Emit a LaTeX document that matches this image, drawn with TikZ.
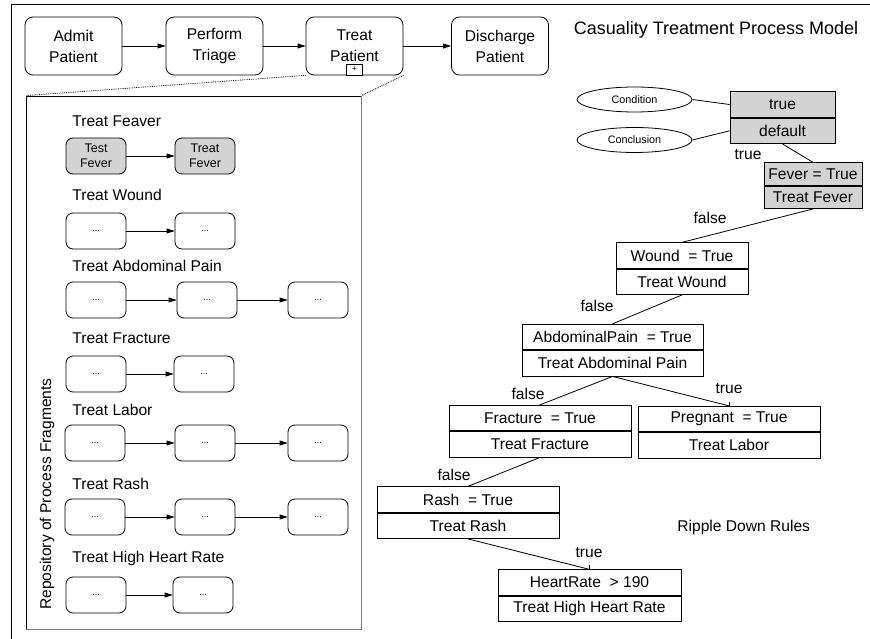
\documentclass[tikz,border=0pt]{standalone}
\usepackage{fontspec}
\setmainfont{Liberation Sans}
\usetikzlibrary{positioning,shapes.geometric,arrows.meta}

\definecolor{shade}{RGB}{211,211,211}
\tikzset{
  task/.style={draw, rounded corners=8pt, minimum width=97pt, minimum height=58pt, inner sep=0pt, align=center, font=\fontsize{15.6}{21}\selectfont},
  frag/.style={draw, rounded corners=7pt, minimum width=60pt, minimum height=36pt, inner sep=0pt, align=center, font=\fontsize{12.5}{15.5}\selectfont},
  dots/.style={frag, font=\fontsize{9}{10}\selectfont},
  fraglbl/.style={anchor=west, inner sep=0pt, font=\fontsize{15.6}{18}\selectfont},
  rule/.style={draw, inner sep=0pt, minimum height=25.5pt, minimum width=182pt, font=\fontsize{15.6}{18}\selectfont},
  lbl/.style={inner sep=0pt, font=\fontsize{15.6}{18}\selectfont},
  flow/.style={-{Triangle[length=8pt,width=5pt]}},
}

\begin{document}
\begin{tikzpicture}[x=1pt, y=-1pt, line width=0.8pt]
\useasboundingbox (0,0) rectangle (870,639);
%\draw[step=50,gray,very thin] (0,0) grid (870,639); %background grid
\draw[line width=1pt] (11,660) -- (11,5) -- (890,5);

% process model
\node[task] (adm) at (73.5,46) {Admit\\Patient};
\node[task] (tri) at (214.5,46) {Perform\\Triage};
\node[task] (trt) at (354.5,46) {Treat\\Patient};
\node[task] (dis) at (500,46) {Discharge\\Patient};
\node[draw, fill=white, line width=0.6pt, minimum width=16pt, minimum height=11pt, inner sep=0pt, anchor=south, font=\fontsize{8}{8}\selectfont] (trtplus) at (trt.south) {+};
\draw[flow] (adm) -- (tri);
\draw[flow] (tri) -- (trt);
\draw[flow] (trt) -- (dis);
\node[lbl, font=\fontsize{18}{20}\selectfont] (title) at (716,30) {Casuality Treatment Process Model};

% repository of fragments
\node[draw, minimum width=335pt, minimum height=533pt, inner sep=0pt] (repo) at (193.5,362.5) {};
\draw[gray, line width=1.3pt] (repo.north east) -- (repo.south east) -- (repo.south west);
\draw[densely dotted] (trt.south west) -- (repo.north west);
\draw[densely dotted] (trt.south east) -- (repo.north east);
\node[lbl, rotate=90] (repolbl) at (47,494) {Repository of Process Fragments};

\node[fraglbl] (lfev) at (72,121) {Treat Feaver};
\node[frag, fill=shade] (fev1) at (96,156) {Test\\Fever};
\node[frag, fill=shade] (fev2) at (205,156) {Treat\\Fever};
\draw[flow] (fev1) -- (fev2);

\node[fraglbl] (lwnd) at (72,195) {Treat Wound};
\node[dots] (wnd1) at (96,231) {...};
\node[dots] (wnd2) at (205,231) {...};
\draw[flow] (wnd1) -- (wnd2);

\node[fraglbl] (labd) at (72,266) {Treat Abdominal Pain};
\node[dots] (abd1) at (96,300) {...};
\node[dots] (abd2) at (207,300) {...};
\node[dots] (abd3) at (318,300) {...};
\draw[flow] (abd1) -- (abd2);
\draw[flow] (abd2) -- (abd3);

\node[fraglbl] (lfrc) at (72,338) {Treat Fracture};
\node[dots] (frc1) at (96,374) {...};
\node[dots] (frc2) at (204,374) {...};
\draw[flow] (frc1) -- (frc2);

\node[fraglbl] (llab) at (72,410) {Treat Labor};
\node[dots] (lab1) at (95,443) {...};
\node[dots] (lab2) at (205,443) {...};
\node[dots] (lab3) at (318,443) {...};
\draw[flow] (lab1) -- (lab2);
\draw[flow] (lab2) -- (lab3);

\node[fraglbl] (lrsh) at (72,484) {Treat Rash};
\node[dots] (rsh1) at (95,517) {...};
\node[dots] (rsh2) at (205,517) {...};
\node[dots] (rsh3) at (318,517) {...};
\draw[flow] (rsh1) -- (rsh2);
\draw[flow] (rsh2) -- (rsh3);

\node[fraglbl] (lhhr) at (72,558) {Treat High Heart Rate};
\node[dots] (hhr1) at (96,595) {...};
\node[dots] (hhr2) at (203,595) {...};
\draw[flow] (hhr1) -- (hhr2);

% ripple down rules
\node[draw, ellipse, minimum width=115pt, minimum height=25pt, inner sep=0pt, font=\fontsize{10.8}{12}\selectfont] (cond) at (634.5,99.5) {Condition};
\node[draw, ellipse, minimum width=115pt, minimum height=25pt, inner sep=0pt, font=\fontsize{10.8}{12}\selectfont] (concl) at (634.5,140) {Conclusion};
\node[rule, fill=shade, minimum width=105pt] (root) at (782.5,104.5) {true};
\node[rule, fill=shade, minimum width=105pt, below=0pt of root] (rootc) {default};
\draw (cond.east) -- (root.west);
\draw (concl.east) -- (rootc.west);

\node[rule, fill=shade, minimum width=98pt, minimum height=22.5pt] (fever) at (813,174) {Fever = True};
\node[rule, fill=shade, minimum width=98pt, minimum height=22.5pt, below=0pt of fever] (feverc) {Treat Fever};
\node[rule, minimum width=132pt] (wound) at (682,255.5) {Wound\ \ = True};
\node[rule, minimum width=132pt, below=0pt of wound] (woundc) {Treat Wound};
\node[rule, minimum width=181pt] (abdom) at (612.5,337) {AbdominalPain\ \ = True};
\node[rule, minimum width=181pt, below=0pt of abdom] (abdomc) {Treat Abdominal Pain};
\node[rule] (fract) at (540,418) {Fracture\ \ = True};
\node[rule, below=0pt of fract] (fractc) {Treat Fracture};
\node[rule] (preg) at (729,419) {Pregnant\ \ = True};
\node[rule, below=0pt of preg] (pregc) {Treat Labor};
\node[rule] (rash) at (468,499.5) {Rash\ \ = True};
\node[rule, below=0pt of rash] (rashc) {Treat Rash};
\node[rule, minimum width=183pt] (heart) at (589.5,582.5) {HeartRate\ \ > 190};
\node[rule, minimum width=183pt, below=0pt of heart] (heartc) {Treat High Heart Rate};

\draw (rootc.south) -- (fever.north);
\draw (feverc.south) -- (wound.north);
\draw (woundc.south) -- (abdom.north);
\draw (abdomc.south) -- (fract.north);
\draw (abdomc.south) -- (preg.north);
\draw (preg.north) -- ++(0,-4);
\draw (fractc.south) -- (rash.north);
\draw (rashc.south) -- (heart.north);
\draw (heart.north) -- ++(0,-4);

\node[lbl] (t1) at (748,155) {true};
\node[lbl] (f1) at (710,218) {false};
\node[lbl] (f2) at (597,306) {false};
\node[lbl] (f3) at (528,394) {false};
\node[lbl] (t2) at (729,389) {true};
\node[lbl] (f4) at (454,475) {false};
\node[lbl] (t3) at (589,553) {true};
\node[lbl, anchor=west] (rdr) at (677,527) {Ripple Down Rules};
\end{tikzpicture}
\end{document}
